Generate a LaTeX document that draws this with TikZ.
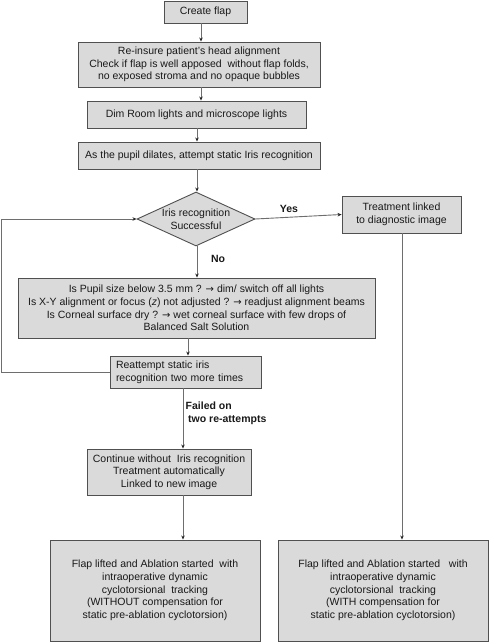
\documentclass[tikz,border=0pt]{standalone}
\usepackage{fontspec}
\setmainfont{Liberation Sans}
\newfontfamily\arrowfont{DejaVu Sans}
\newcommand{\myarrow}{{\arrowfont\fontsize{10}{12}\selectfont →}}
\usetikzlibrary{shapes.geometric,arrows.meta}
\definecolor{boxfill}{RGB}{218,218,218}
\definecolor{boxline}{RGB}{80,80,80}
\definecolor{conn}{RGB}{110,110,110}
\definecolor{txt}{RGB}{25,25,25}
\begin{document}
\begin{tikzpicture}[x=1pt,y=-1pt,
  every node/.style={font=\fontsize{10.5}{12.7}\selectfont, text=txt},
  box/.style={draw=boxline, line width=0.9pt, fill=boxfill, inner sep=0pt, align=center},
  decision/.style={diamond, draw=boxline, line width=0.9pt, fill=boxfill, inner sep=0pt, aspect=2.2, align=center},
  arr/.style={draw=conn, line width=0.9pt, -{Stealth[length=4pt,width=3.5pt,fill=black!85,color=black!85]}},
  line/.style={draw=conn, line width=0.9pt},
  lbl/.style={font=\fontsize{10.5}{12.7}\selectfont\bfseries, inner sep=0pt}
]
\useasboundingbox (0,0) rectangle (489,642);
\fill[white] (0,0) rectangle (489,642);

\node[box, minimum width=83pt, minimum height=22pt] (b1) at (205.5,12) {Create flap};
\node[box, minimum width=242pt, minimum height=45pt] (b2) at (199,64.5) {Re-insure patient's head alignment\\Check if flap is well apposed\ \ without flap folds,\\no exposed stroma and no opaque bubbles};
\node[box, minimum width=219pt, minimum height=27pt] (b3) at (196.5,114.5) {Dim Room lights and microscope lights};
\node[box, minimum width=242pt, minimum height=27pt] (b4) at (199,155.5) {As the pupil dilates, attempt static Iris recognition};
\node[decision, minimum width=118pt, minimum height=54pt] (dia) at (196,219) {Iris recognition\\Successful};
\node[box, minimum width=119pt, minimum height=37pt] (tr) at (401.5,214.5) {Treatment linked\\to diagnostic image};
\node[box, minimum width=357pt, minimum height=60pt] (b5) at (196.5,308) {Is Pupil size below 3.5 mm ? \myarrow\ dim/ switch off all lights\\Is X-Y alignment or focus (\textit{z}) not adjusted ? \myarrow\ readjust alignment beams\\Is Corneal surface dry ? \myarrow\ wet corneal surface with few drops of\\Balanced Salt Solution};
\node[box, minimum width=151pt, minimum height=32pt, align=left, text width=139pt, inner xsep=6pt] (b6) at (185.5,372) {Reattempt static iris\\recognition two more times};
\node[box, minimum width=164pt, minimum height=46pt] (b7) at (169,472) {Continue without\ \ Iris recognition\\Treatment automatically\\Linked to new image};
\node[box, minimum width=210pt, minimum height=101pt] (b8) at (155,590.5) {Flap lifted and Ablation started\ \ with\\intraoperative dynamic\\cyclotorsional\ \ tracking\\(WITHOUT compensation for\\static pre-ablation cyclotorsion)};
\node[box, minimum width=210pt, minimum height=101pt] (b9) at (383,590.5) {Flap lifted and Ablation started\ \ \ with\\intraoperative dynamic\\cyclotorsional\ \ tracking\\(WITH compensation for\\static pre-ablation cyclotorsion)};

\coordinate (cA) at (201,0);
\coordinate (cB) at (197,0);
\coordinate (cC) at (188,0);
\coordinate (cD) at (183,0);
\coordinate (cE) at (402,0);
\coordinate (cL) at (1.5,0);

\draw[arr] (b1.south -| cA) -- (b2.north -| cA);
\draw[arr] (b2.south -| cA) -- (b3.north -| cA);
\draw[arr] (b3.south -| cB) -- (b4.north -| cB);
\draw[arr] (b4.south -| cB) -- (dia.north -| cB);
\draw[arr] (dia.south -| cB) -- (b5.north -| cB);
\draw[arr] (b5.south -| cC) -- (b6.north -| cC);
\draw[arr] (b6.south -| cD) -- (b7.north -| cD);
\draw[arr] (b7.south -| cD) -- (b8.north -| cD);
\draw[arr] (dia.east) -- (tr.west);
\draw[arr] (tr.south -| cE) -- (b9.north -| cE);
\draw[arr] (b6.west) -- (b6.west -| cL) |- (dia.west);

\node[lbl] (yes) at (289,209) {Yes};
\node[lbl] (no) at (218,259) {No};
\node[lbl, anchor=west, align=left] (fail) at (185.5,413.5) {Failed on\\\hspace{2.5pt}two re-attempts};
\end{tikzpicture}
\end{document}
